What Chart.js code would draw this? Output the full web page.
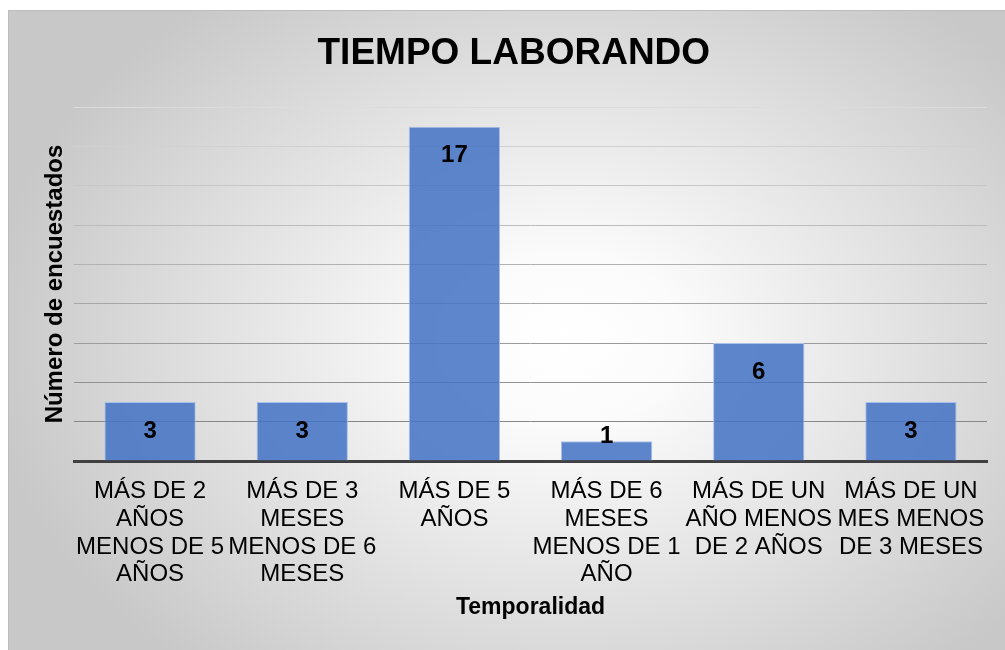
<!DOCTYPE html>
<html lang="es">
<head>
<meta charset="utf-8">
<title>Tiempo laborando</title>
<script src="https://cdn.jsdelivr.net/npm/chart.js@4.4.1/dist/chart.umd.min.js"></script>
<style>
    html, body { margin: 0; padding: 0; background: #fff; }
    .chart-box { position: relative; width: 1005px; height: 650px; }
</style>
</head>
<body>
<div class="chart-box"><canvas id="tiempoChart"></canvas></div>
<script>
const categorias = [
    ['MÁS DE 2', 'AÑOS', 'MENOS DE 5', 'AÑOS'],
    ['MÁS DE 3', 'MESES', 'MENOS DE 6', 'MESES'],
    ['MÁS DE 5', 'AÑOS'],
    ['MÁS DE 6', 'MESES', 'MENOS DE 1', 'AÑO'],
    ['MÁS DE UN', 'AÑO MENOS', 'DE 2 AÑOS'],
    ['MÁS DE UN', 'MES MENOS', 'DE 3 MESES'],
];
const encuestados = [3, 3, 17, 1, 6, 3];
const yMax = 18;
const yStep = 2;

const fuente = "'Liberation Sans', Arial, sans-serif";

// fondo con degradado radial y marco gris
const fondo = {
    id: 'fondo',
    beforeDraw(chart) {
        const { ctx, width, height } = chart;
        ctx.save();
        ctx.fillStyle = '#ffffff';
        ctx.fillRect(0, 0, width, height);
        ctx.beginPath();
        ctx.rect(8, 10, width, height);
        ctx.clip();
        ctx.translate(565, 340);
        ctx.scale(1, 0.74);
        const grad = ctx.createRadialGradient(0, 0, 0, 0, 0, 580);
        grad.addColorStop(0, '#ffffff');
        grad.addColorStop(0.2, '#fbfbfb');
        grad.addColorStop(1, '#c8c8c8');
        ctx.fillStyle = grad;
        ctx.fillRect(-700, -600, 1400, 1200);
        ctx.restore();

        ctx.save();
        ctx.strokeStyle = '#bdbdbd';
        ctx.lineWidth = 1;
        ctx.strokeRect(8.5, 10.5, width + 10, height + 10);
        ctx.restore();
    },
};

// valor de cada barra, en negrita cerca del extremo superior
const etiquetasValor = {
    id: 'etiquetasValor',
    afterDatasetsDraw(chart) {
        const { ctx } = chart;
        const meta = chart.getDatasetMeta(0);
        ctx.save();
        ctx.font = `bold 24px ${fuente}`;
        ctx.fillStyle = '#000000';
        ctx.textAlign = 'center';
        ctx.textBaseline = 'middle';
        meta.data.forEach((bar, i) => {
            const y = Math.min(bar.y + 29, bar.base - 24);
            ctx.fillText(String(encuestados[i]), bar.x, y);
        });
        ctx.restore();
    },
};

const gridGris = (ctx) => {
    const v = ctx.tick ? ctx.tick.value : 0;
    if (v === 0) {
        return 'rgba(0,0,0,0)';
    }
    const g = Math.round(135 + ((v - yStep) / (yMax - yStep)) * 85);
    return `rgb(${g}, ${g}, ${g})`;
};

new Chart(document.getElementById('tiempoChart'), {
    type: 'bar',
    data: {
        labels: categorias,
        datasets: [{
            label: 'Número de encuestados',
            data: encuestados,
            backgroundColor: 'rgba(68, 114, 196, 0.86)',
            borderColor: '#a9c0e8',
            borderWidth: 1,
            borderSkipped: 'bottom',
            categoryPercentage: 0.6,
            barPercentage: 1,
        }],
    },
    options: {
        responsive: true,
        maintainAspectRatio: false,
        animation: false,
        layout: { padding: { left: 40.6, right: 18, top: 10, bottom: 28.2 } },
        plugins: {
            legend: { display: false },
            tooltip: { enabled: false },
            title: {
                display: true,
                text: 'TIEMPO LABORANDO',
                color: '#000000',
                font: { family: fuente, size: 37, weight: 'bold', lineHeight: 1.2 },
                padding: { top: 21.2, bottom: 31.4 },
            },
        },
        scales: {
            x: {
                grid: { display: false, drawTicks: false },
                border: { display: true, color: '#404040', width: 3 },
                ticks: {
                    color: '#000000',
                    padding: 17,
                    maxRotation: 0,
                    minRotation: 0,
                    autoSkip: false,
                    font: { family: fuente, size: 24, lineHeight: 1.15 },
                },
                title: {
                    display: true,
                    text: 'Temporalidad',
                    color: '#000000',
                    font: { family: fuente, size: 23, weight: 'bold', lineHeight: 1.2 },
                    padding: { top: -11.2, bottom: 0 },
                },
            },
            y: {
                min: 0,
                max: yMax,
                grid: { color: gridGris, lineWidth: 1, drawTicks: false },
                border: { display: false },
                ticks: { display: false, stepSize: yStep },
                title: {
                    display: true,
                    text: 'Número de encuestados',
                    color: '#000000',
                    font: { family: fuente, size: 24, weight: 'bold', lineHeight: 1.2 },
                    padding: { top: 0, bottom: 4.6 },
                },
            },
        },
    },
    plugins: [fondo, etiquetasValor],
});
</script>
</body>
</html>
